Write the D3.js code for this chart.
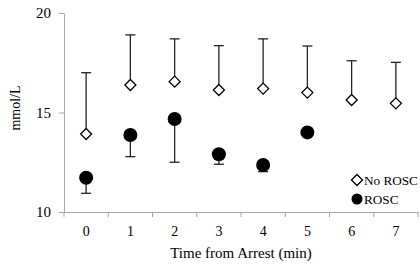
<!DOCTYPE html>
<html><head><meta charset="utf-8">
<script src="https://cdn.jsdelivr.net/npm/d3@7"></script>
<style>body{margin:0;background:#fff}svg{display:block}</style>
</head><body>
<script>
const categories = ["0","1","2","3","4","5","6","7"];
const noRosc = [13.92, 16.38, 16.55, 16.13, 16.2, 16.0, 15.63, 15.46];
const noRoscUpper = [17.0, 18.9, 18.7, 18.36, 18.7, 18.34, 17.6, 17.52];
const rosc = [11.72, 13.87, 14.67, 12.9, 12.36, 14.0];
const roscLower = [10.94, 12.78, 12.5, 12.4, 12.03, 14.0];
const yTicks = [10, 15, 20];

const W = 420, H = 265;
const svg = d3.select("body").append("svg").attr("width", W).attr("height", H);
const font = "Liberation Serif, serif";
const x = d3.scaleBand().domain(categories).range([64, 418]);
const y = d3.scaleLinear().domain([10, 20]).range([212, 13]);
const axisColor = "#a6a6a6";

const xAxis = svg.append("g").attr("transform", "translate(0,212)")
  .call(d3.axisBottom(x).tickSize(0).tickPadding(14));
xAxis.select(".domain").attr("stroke", axisColor);
xAxis.selectAll("text").attr("font-family", font).attr("font-size", 14).attr("fill", "#000");
// category boundary ticks
const bounds = categories.map(c => x(c)).concat([x.range()[1]]);
xAxis.selectAll(".bt").data(bounds).enter().append("line")
  .attr("x1", d => d).attr("x2", d => d).attr("y1", 0).attr("y2", 5).attr("stroke", axisColor);

const yAxis = svg.append("g").attr("transform", "translate(64,0)")
  .call(d3.axisLeft(y).tickValues(yTicks).tickSize(5).tickPadding(8).tickSizeOuter(0));
yAxis.select(".domain").attr("stroke", axisColor);
yAxis.selectAll("line").attr("stroke", axisColor);
yAxis.selectAll("text").attr("font-family", font).attr("font-size", 15).attr("fill", "#000");

svg.append("text").attr("transform", "translate(20,108) rotate(-90)").attr("text-anchor", "middle")
  .attr("font-family", font).attr("font-size", 14).text("mmol/L");
svg.append("text").attr("x", 241).attr("y", 258).attr("text-anchor", "middle")
  .attr("font-family", font).attr("font-size", 15).text("Time from Arrest (min)");

const cx = c => x(c) + x.bandwidth() / 2;
const g = svg.append("g").attr("stroke", "#222").attr("stroke-width", 1.3);
// No ROSC error bars (up)
categories.forEach((c, i) => {
  g.append("line").attr("x1", cx(c)).attr("x2", cx(c)).attr("y1", y(noRosc[i])).attr("y2", y(noRoscUpper[i]));
  g.append("line").attr("x1", cx(c) - 5).attr("x2", cx(c) + 5).attr("y1", y(noRoscUpper[i])).attr("y2", y(noRoscUpper[i]));
});
rosc.forEach((v, i) => {
  const c = categories[i];
  if (roscLower[i] < v) {
    g.append("line").attr("x1", cx(c)).attr("x2", cx(c)).attr("y1", y(v)).attr("y2", y(roscLower[i]));
    g.append("line").attr("x1", cx(c) - 5).attr("x2", cx(c) + 5).attr("y1", y(roscLower[i])).attr("y2", y(roscLower[i]));
  }
});
function drawDiamond(px, py) {
  svg.append("path").attr("d", "M0,-5.5L5.5,0L0,5.5L-5.5,0Z").attr("transform", `translate(${px},${py})`)
    .attr("fill", "#fff").attr("stroke", "#000").attr("stroke-width", 1.3);
}
categories.forEach((c, i) => drawDiamond(cx(c), y(noRosc[i])));
rosc.forEach((v, i) => {
  svg.append("circle").attr("cx", cx(categories[i])).attr("cy", y(v)).attr("r", 7).attr("fill", "#000");
});

// legend
drawDiamond(357, 180);
svg.append("circle").attr("cx", 357).attr("cy", 199).attr("r", 5.5).attr("fill", "#000");
svg.append("text").attr("x", 364).attr("y", 185).attr("font-family", font).attr("font-size", 13.2).text("No ROSC");
svg.append("text").attr("x", 364).attr("y", 204).attr("font-family", font).attr("font-size", 13.2).text("ROSC");
</script>
</body></html>
